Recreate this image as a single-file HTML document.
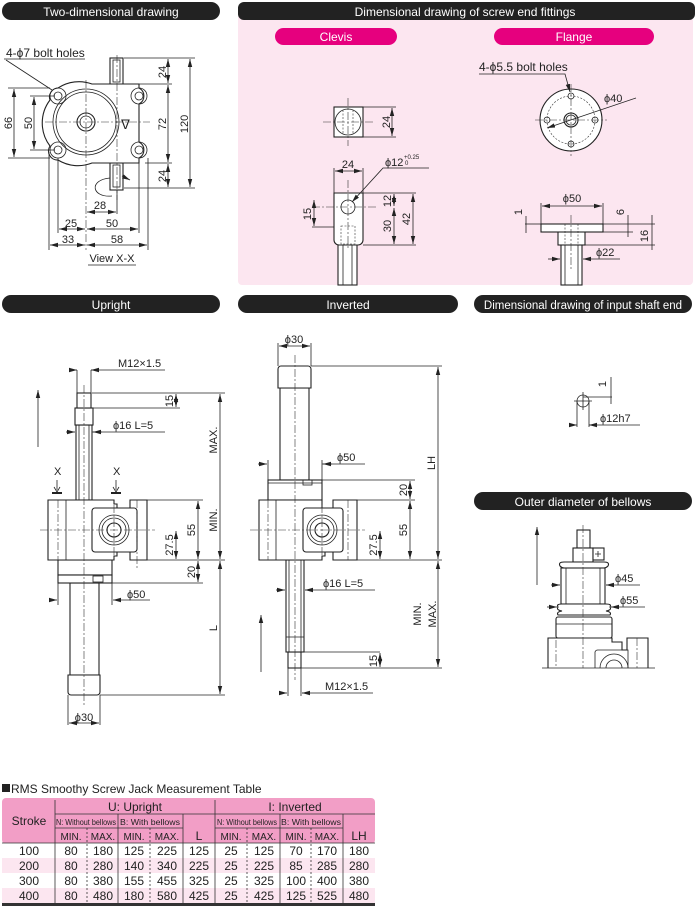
<!DOCTYPE html>
<html><head><meta charset="utf-8"><style>
html,body{margin:0;padding:0;background:#fff}
svg{display:block}
text{font-family:"Liberation Sans",sans-serif;fill:#222}
.h{fill:#fff;font-size:12px}
.d{font-size:11px}
.ln{stroke:#222;stroke-width:0.8;fill:none}
.th{stroke:#222;stroke-width:1.1;fill:#fff}
.c{stroke:#333;stroke-width:0.6;stroke-dasharray:8 2 2 2;fill:none}
.hd{stroke:#333;stroke-width:0.6;stroke-dasharray:2 1.5;fill:none}
</style></head><body>
<svg width="695" height="908" viewBox="0 0 695 908" xmlns="http://www.w3.org/2000/svg">
<defs>
<marker id="a" viewBox="0 0 8 6" refX="8" refY="3" markerWidth="8" markerHeight="6" orient="auto-start-reverse" markerUnits="userSpaceOnUse"><path d="M0,0.8 L8,3 L0,5.2z" fill="#222"/></marker>
</defs>
<!-- pink panel -->
<rect x="238" y="14" width="455" height="271" rx="4" fill="#fce6f0"/>
<!-- headers -->
<rect x="2" y="2" width="218" height="18" rx="9" fill="#222"/><text x="111" y="16" text-anchor="middle" class="h">Two-dimensional drawing</text>
<rect x="238" y="2" width="457" height="18" rx="6" fill="#222"/><text x="465" y="16" text-anchor="middle" class="h">Dimensional drawing of screw end fittings</text>
<rect x="275" y="28" width="122" height="17" rx="8.5" fill="#e6007e"/><text x="336" y="41" text-anchor="middle" class="h">Clevis</text>
<rect x="494" y="28" width="160" height="17" rx="8.5" fill="#e6007e"/><text x="574" y="41" text-anchor="middle" class="h">Flange</text>
<rect x="2" y="295" width="218" height="18" rx="9" fill="#222"/><text x="111" y="309" text-anchor="middle" class="h">Upright</text>
<rect x="238" y="295" width="220" height="18" rx="9" fill="#222"/><text x="348" y="309" text-anchor="middle" class="h">Inverted</text>
<rect x="474" y="295" width="218" height="18" rx="9" fill="#222"/><text x="583" y="309" text-anchor="middle" class="h" style="font-size:11.5px">Dimensional drawing of input shaft end</text>
<rect x="474" y="492" width="218" height="18" rx="9" fill="#222"/><text x="583" y="506" text-anchor="middle" class="h">Outer diameter of bellows</text>

<!-- Two-dimensional drawing -->
<g>
<rect x="110" y="58" width="13" height="27" class="th"/>
<rect x="110" y="163" width="13" height="27" class="th"/>
<rect x="113" y="165" width="7" height="22" class="ln"/>
<rect x="113" y="60" width="7" height="22" class="ln"/>
<path d="M92,84 H139 V88 A9,9 0 0 1 139,104 V142 A9,9 0 0 1 139,158 V163 H92 A38,38 0 0 1 58,160 A9,9 0 0 1 50,146 A38,38 0 0 1 50,100 A9,9 0 0 1 58,88 A38,38 0 0 1 92,84z" class="th"/>
<circle cx="86" cy="122" r="33" class="ln"/><circle cx="86" cy="122" r="30" class="ln"/>
<circle cx="86" cy="122" r="9" class="th"/><circle cx="86" cy="122" r="6" class="ln"/>
<g class="ln"><circle cx="58" cy="96" r="8"/><circle cx="58" cy="96" r="4"/><circle cx="58" cy="150" r="8"/><circle cx="58" cy="150" r="4"/><circle cx="139" cy="96" r="8"/><circle cx="139" cy="96" r="4"/><circle cx="139" cy="150" r="8"/><circle cx="139" cy="150" r="4"/></g>
<text x="121" y="129" class="d" style="font-size:13px">ᐁ</text>
<line x1="86" y1="80" x2="86" y2="250" class="c"/><line x1="45" y1="122" x2="150" y2="122" class="c"/><line x1="117" y1="55" x2="117" y2="200" class="c"/>
<path d="M110,178 C88,180 92,198 112,196" class="ln"/><path d="M122,176 L130,180" class="ln" marker-end="url(#a)"/>
<text x="6" y="57" class="d" style="font-size:12px">4-ϕ7 bolt holes</text>
<line x1="4" y1="59" x2="85" y2="59" class="ln"/><line x1="6" y1="60" x2="52" y2="90" class="ln"/>
<g class="ln"><line x1="8" y1="88" x2="50" y2="88"/><line x1="8" y1="158" x2="50" y2="158"/><line x1="30" y1="96" x2="55" y2="96"/><line x1="30" y1="150" x2="55" y2="150"/>
<line x1="124" y1="58" x2="195" y2="58"/><line x1="124" y1="84" x2="172" y2="84"/><line x1="145" y1="163" x2="172" y2="163"/><line x1="124" y1="188" x2="195" y2="188"/>
<line x1="49" y1="152" x2="49" y2="250"/><line x1="58" y1="158" x2="58" y2="233"/><line x1="148" y1="158" x2="148" y2="250"/><line x1="139" y1="158" x2="139" y2="233"/><line x1="117" y1="190" x2="117" y2="214"/></g>
<line x1="14" y1="89" x2="14" y2="157" class="ln" marker-start="url(#a)" marker-end="url(#a)"/>
<line x1="34" y1="97" x2="34" y2="149" class="ln" marker-start="url(#a)" marker-end="url(#a)"/>
<line x1="168" y1="59" x2="168" y2="83" class="ln" marker-start="url(#a)" marker-end="url(#a)"/>
<line x1="168" y1="85" x2="168" y2="162" class="ln" marker-start="url(#a)" marker-end="url(#a)"/>
<line x1="168" y1="164" x2="168" y2="187" class="ln" marker-start="url(#a)" marker-end="url(#a)"/>
<line x1="190" y1="59" x2="190" y2="187" class="ln" marker-start="url(#a)" marker-end="url(#a)"/>
<line x1="87" y1="212" x2="116" y2="212" class="ln" marker-start="url(#a)" marker-end="url(#a)"/>
<line x1="59" y1="229" x2="85" y2="229" class="ln" marker-start="url(#a)" marker-end="url(#a)"/>
<line x1="87" y1="229" x2="138" y2="229" class="ln" marker-start="url(#a)" marker-end="url(#a)"/>
<line x1="50" y1="245" x2="85" y2="245" class="ln" marker-start="url(#a)" marker-end="url(#a)"/>
<line x1="87" y1="245" x2="147" y2="245" class="ln" marker-start="url(#a)" marker-end="url(#a)"/>
<g class="d"><text transform="translate(12,123) rotate(-90)" text-anchor="middle">66</text><text transform="translate(32,123) rotate(-90)" text-anchor="middle">50</text>
<text transform="translate(166,72) rotate(-90)" text-anchor="middle">24</text><text transform="translate(166,124) rotate(-90)" text-anchor="middle">72</text><text transform="translate(166,176) rotate(-90)" text-anchor="middle">24</text><text transform="translate(188,124) rotate(-90)" text-anchor="middle">120</text>
<text x="100" y="209" text-anchor="middle">28</text><text x="71" y="227" text-anchor="middle">25</text><text x="112" y="227" text-anchor="middle">50</text><text x="68" y="243" text-anchor="middle">33</text><text x="117" y="243" text-anchor="middle">58</text>
<text x="112" y="262" text-anchor="middle">View X-X</text></g>
<line x1="88" y1="265" x2="136" y2="265" class="ln"/>
</g>

<!-- Clevis -->
<g>
<rect x="334" y="107" width="29" height="30" class="th"/><circle cx="348" cy="122" r="13" class="ln"/>
<line x1="343" y1="110" x2="343" y2="134" class="hd"/><line x1="353" y1="110" x2="353" y2="134" class="hd"/>
<line x1="348" y1="98" x2="348" y2="146" class="c"/><line x1="323" y1="122" x2="373" y2="122" class="c"/>
<line x1="363" y1="107" x2="396" y2="107" class="ln"/><line x1="363" y1="137" x2="396" y2="137" class="ln"/>
<line x1="392" y1="108" x2="392" y2="136" class="ln" marker-start="url(#a)" marker-end="url(#a)"/><text transform="translate(390,122) rotate(-90)" text-anchor="middle" class="d">24</text>
<rect x="338" y="244" width="19" height="41" class="th"/><line x1="343" y1="244" x2="343" y2="285" class="ln"/><line x1="352" y1="244" x2="352" y2="285" class="ln"/>
<path d="M334,193 H363 V240 A5,5 0 0 1 358,245 H339 A5,5 0 0 1 334,240z" class="th"/>
<circle cx="348" cy="207" r="7" class="ln"/>
<rect x="341" y="226" width="14" height="18" class="hd"/>
<line x1="348" y1="180" x2="348" y2="250" class="c"/><line x1="312" y1="207" x2="376" y2="207" class="c"/>
<line x1="334" y1="168" x2="334" y2="193" class="ln"/><line x1="363" y1="168" x2="363" y2="193" class="ln"/>
<line x1="335" y1="171" x2="362" y2="171" class="ln" marker-start="url(#a)" marker-end="url(#a)"/><text x="348" y="168" text-anchor="middle" class="d">24</text>
<path d="M429,168 H383 L352,202" class="ln" marker-end="url(#a)"/>
<text x="385" y="166" class="d">ϕ12</text><text x="404" y="159" style="font-size:6px">+0.25</text><text x="405" y="165" style="font-size:6px">0</text>
<line x1="312" y1="227" x2="334" y2="227" class="ln"/><line x1="314" y1="200" x2="314" y2="226" class="ln" marker-start="url(#a)" marker-end="url(#a)"/><text transform="translate(311,214) rotate(-90)" text-anchor="middle" class="d">15</text>
<line x1="363" y1="193" x2="416" y2="193" class="ln"/><line x1="363" y1="245" x2="416" y2="245" class="ln"/>
<line x1="394" y1="194" x2="394" y2="206" class="ln" marker-start="url(#a)" marker-end="url(#a)"/><line x1="394" y1="208" x2="394" y2="244" class="ln" marker-start="url(#a)" marker-end="url(#a)"/><line x1="413" y1="194" x2="413" y2="244" class="ln" marker-start="url(#a)" marker-end="url(#a)"/>
<text transform="translate(391,201) rotate(-90)" text-anchor="middle" class="d">12</text><text transform="translate(391,226) rotate(-90)" text-anchor="middle" class="d">30</text><text transform="translate(410,219) rotate(-90)" text-anchor="middle" class="d">42</text>
</g>

<!-- Flange -->
<g>
<circle cx="571" cy="120" r="31" class="th"/><circle cx="571" cy="120" r="24" class="hd"/>
<circle cx="571" cy="120" r="7" class="th"/><circle cx="571" cy="120" r="5" class="ln"/>
<g class="ln"><circle cx="571" cy="96" r="3"/><circle cx="571" cy="144" r="3"/><circle cx="547" cy="120" r="3"/><circle cx="595" cy="120" r="3"/></g>
<line x1="571" y1="84" x2="571" y2="156" class="c"/><line x1="535" y1="120" x2="607" y2="120" class="c"/>
<text x="479" y="71" class="d" style="font-size:12px">4-ϕ5.5 bolt holes</text><path d="M479,74 H565 L570,92" class="ln" marker-end="url(#a)"/>
<line x1="636" y1="98" x2="547" y2="128" class="ln" marker-end="url(#a)"/><text x="604" y="102" class="d">ϕ40</text>
<rect x="561" y="244" width="21" height="41" class="th"/><line x1="565" y1="244" x2="565" y2="285" class="ln"/><line x1="578" y1="244" x2="578" y2="285" class="ln"/>
<rect x="558" y="231" width="27" height="14" class="th"/>
<rect x="541" y="224" width="62" height="8" class="th"/>
<line x1="565" y1="224" x2="565" y2="244" class="hd"/><line x1="578" y1="224" x2="578" y2="244" class="hd"/>
<line x1="571" y1="215" x2="571" y2="270" class="c"/>
<line x1="541" y1="203" x2="541" y2="224" class="ln"/><line x1="603" y1="203" x2="603" y2="224" class="ln"/>
<line x1="542" y1="206" x2="602" y2="206" class="ln" marker-start="url(#a)" marker-end="url(#a)"/><text x="572" y="202" text-anchor="middle" class="d">ϕ50</text>
<line x1="525" y1="224" x2="541" y2="224" class="ln"/><line x1="603" y1="224" x2="655" y2="224" class="ln"/><line x1="585" y1="232" x2="633" y2="232" class="ln"/><line x1="585" y1="245" x2="655" y2="245" class="ln"/>
<line x1="526" y1="216" x2="526" y2="233" class="ln"/><text transform="translate(522,212) rotate(-90)" text-anchor="middle" class="d">1</text>
<line x1="628" y1="215" x2="628" y2="237" class="ln"/><text transform="translate(624,212) rotate(-90)" text-anchor="middle" class="d">6</text>
<line x1="652" y1="215" x2="652" y2="250" class="ln"/><text transform="translate(648,236) rotate(-90)" text-anchor="middle" class="d">16</text>
<line x1="548" y1="259" x2="560" y2="259" class="ln" marker-end="url(#a)"/><line x1="620" y1="259" x2="583" y2="259" class="ln" marker-end="url(#a)"/><text x="596" y="256" class="d">ϕ22</text>
</g>

<!-- Upright -->
<g>
<line x1="38" y1="390" x2="38" y2="447" class="ln" marker-start="url(#a)"/>
<rect x="70" y="583" width="29" height="92" class="th"/>
<path d="M68,675 H100 V692 A3,3 0 0 1 97,695 H71 A3,3 0 0 1 68,692z" class="th"/>
<rect x="58" y="560" width="54" height="15" class="th"/>
<rect x="58" y="575" width="54" height="8" class="th"/><rect x="93" y="576" width="10" height="6" class="ln"/>
<rect x="76" y="425" width="16" height="75" class="th"/><line x1="79" y1="425" x2="79" y2="500" class="ln"/><line x1="89" y1="425" x2="89" y2="500" class="ln"/>
<rect x="75" y="408" width="18" height="17" class="th"/>
<rect x="77" y="393" width="14" height="15" class="th"/>
<path d="M48,500 H114 V504 H117 V508 H130 V500 H147 V560 H130 V552 H117 V556 H114 V560 H48z" class="th"/>
<line x1="66" y1="500" x2="66" y2="560" class="ln"/>
<rect x="92" y="508" width="45" height="44" rx="3" class="th"/>
<circle cx="114" cy="530" r="15" class="ln"/><circle cx="114" cy="530" r="12" class="ln"/><circle cx="114" cy="530" r="7" class="th"/>
<line x1="84" y1="385" x2="84" y2="705" class="c"/><line x1="40" y1="530" x2="155" y2="530" class="c"/><line x1="114" y1="505" x2="114" y2="558" class="c"/><line x1="58" y1="500" x2="58" y2="560" class="c"/><line x1="137" y1="500" x2="137" y2="570" class="c"/>
<text x="54" y="475" class="d">X</text><text x="113" y="475" class="d">X</text>
<path d="M57,480 V490 M54,487 L57,492 L60,487" class="ln"/><rect x="52" y="492" width="10" height="2" fill="#222"/>
<path d="M116,480 V490 M113,487 L116,492 L119,487" class="ln"/><rect x="111" y="492" width="10" height="2" fill="#222"/>
<g class="ln"><line x1="91" y1="370" x2="165" y2="370"/><line x1="77" y1="370" x2="77" y2="393"/><line x1="91" y1="370" x2="91" y2="393"/>
<line x1="92" y1="393" x2="225" y2="393"/><line x1="93" y1="408" x2="180" y2="408"/><line x1="92" y1="432" x2="165" y2="432"/>
<line x1="147" y1="500" x2="203" y2="500"/><line x1="147" y1="560" x2="225" y2="560"/><line x1="112" y1="583" x2="203" y2="583"/><line x1="100" y1="695" x2="225" y2="695"/>
<line x1="58" y1="583" x2="58" y2="605"/><line x1="112" y1="583" x2="112" y2="605"/><line x1="68" y1="695" x2="68" y2="725"/><line x1="100" y1="695" x2="100" y2="725"/></g>
<line x1="70" y1="370" x2="77" y2="370" class="ln" marker-end="url(#a)"/><line x1="98" y1="370" x2="91" y2="370" class="ln" marker-end="url(#a)"/><text x="118" y="367" class="d">M12×1.5</text>
<line x1="66" y1="432" x2="75" y2="432" class="ln" marker-end="url(#a)"/><line x1="102" y1="432" x2="93" y2="432" class="ln" marker-end="url(#a)"/><text x="113" y="429" class="d">ϕ16 L=5</text>
<line x1="176" y1="394" x2="176" y2="407" class="ln" marker-start="url(#a)" marker-end="url(#a)"/><text transform="translate(173,401) rotate(-90)" text-anchor="middle" class="d">15</text>
<line x1="198" y1="501" x2="198" y2="559" class="ln" marker-start="url(#a)" marker-end="url(#a)"/><text transform="translate(195,530) rotate(-90)" text-anchor="middle" class="d">55</text>
<line x1="176" y1="531" x2="176" y2="559" class="ln" marker-start="url(#a)" marker-end="url(#a)"/><text transform="translate(173,545) rotate(-90)" text-anchor="middle" class="d">27.5</text>
<line x1="198" y1="561" x2="198" y2="582" class="ln" marker-start="url(#a)" marker-end="url(#a)"/><text transform="translate(195,572) rotate(-90)" text-anchor="middle" class="d">20</text>
<line x1="220" y1="394" x2="220" y2="559" class="ln" marker-start="url(#a)" marker-end="url(#a)"/><text transform="translate(217,440) rotate(-90)" text-anchor="middle" class="d">MAX.</text><text transform="translate(217,520) rotate(-90)" text-anchor="middle" class="d">MIN.</text>
<line x1="220" y1="561" x2="220" y2="694" class="ln" marker-start="url(#a)" marker-end="url(#a)"/><text transform="translate(217,628) rotate(-90)" text-anchor="middle" class="d">L</text>
<line x1="50" y1="600" x2="57" y2="600" class="ln" marker-end="url(#a)"/><line x1="150" y1="600" x2="113" y2="600" class="ln" marker-end="url(#a)"/><text x="127" y="598" class="d">ϕ50</text>
<line x1="69" y1="723" x2="99" y2="723" class="ln" marker-start="url(#a)" marker-end="url(#a)"/><text x="84" y="721" text-anchor="middle" class="d">ϕ30</text>
</g>

<!-- Inverted -->
<g>
<line x1="261" y1="615" x2="261" y2="672" class="ln" marker-start="url(#a)"/>
<rect x="280" y="388" width="29" height="92" class="th"/>
<path d="M278,369 A3,3 0 0 1 281,366 H308 A3,3 0 0 1 311,369 V388 H278z" class="th"/>
<rect x="268" y="480" width="54" height="20" class="th"/><line x1="268" y1="483" x2="322" y2="483" class="ln"/><rect x="303" y="480" width="9" height="5" class="ln"/>
<rect x="288" y="652" width="13" height="16" class="th"/>
<rect x="286" y="560" width="18" height="92" class="th"/><line x1="289" y1="560" x2="289" y2="652" class="ln"/><line x1="301" y1="560" x2="301" y2="652" class="ln"/><line x1="286" y1="637" x2="304" y2="637" class="ln"/>
<path d="M259,500 H322 V508 H333 V500 H357 V560 H333 V552 H325 V556 H322 V560 H259z" class="th"/>
<line x1="276" y1="500" x2="276" y2="560" class="ln"/>
<rect x="303" y="508" width="40" height="44" rx="3" class="th"/>
<circle cx="322" cy="530" r="15" class="ln"/><circle cx="322" cy="530" r="12" class="ln"/><circle cx="322" cy="530" r="7" class="th"/>
<line x1="295" y1="355" x2="295" y2="680" class="c"/><line x1="250" y1="530" x2="365" y2="530" class="c"/><line x1="268" y1="500" x2="268" y2="560" class="c"/><line x1="348" y1="500" x2="348" y2="560" class="c"/><line x1="322" y1="505" x2="322" y2="555" class="c"/>
<g class="ln"><line x1="278" y1="343" x2="278" y2="366"/><line x1="311" y1="343" x2="311" y2="366"/><line x1="311" y1="366" x2="442" y2="366"/>
<line x1="268" y1="460" x2="268" y2="480"/><line x1="322" y1="460" x2="322" y2="480"/><line x1="322" y1="480" x2="415" y2="480"/><line x1="357" y1="500" x2="415" y2="500"/><line x1="357" y1="560" x2="442" y2="560"/>
<line x1="304" y1="652" x2="380" y2="652"/><line x1="301" y1="668" x2="442" y2="668"/><line x1="288" y1="668" x2="288" y2="696"/><line x1="301" y1="668" x2="301" y2="696"/></g>
<line x1="279" y1="346" x2="310" y2="346" class="ln" marker-start="url(#a)" marker-end="url(#a)"/><text x="294" y="343" text-anchor="middle" class="d">ϕ30</text>
<line x1="258" y1="464" x2="267" y2="464" class="ln" marker-end="url(#a)"/><line x1="332" y1="464" x2="323" y2="464" class="ln" marker-end="url(#a)"/><line x1="322" y1="464" x2="365" y2="464" class="ln"/><text x="337" y="461" class="d">ϕ50</text>
<line x1="276" y1="590" x2="285" y2="590" class="ln" marker-end="url(#a)"/><line x1="312" y1="590" x2="305" y2="590" class="ln" marker-end="url(#a)"/><line x1="305" y1="590" x2="375" y2="590" class="ln"/><text x="323" y="587" class="d">ϕ16 L=5</text>
<line x1="410" y1="481" x2="410" y2="499" class="ln" marker-start="url(#a)" marker-end="url(#a)"/><text transform="translate(407,490) rotate(-90)" text-anchor="middle" class="d">20</text>
<line x1="410" y1="501" x2="410" y2="559" class="ln" marker-start="url(#a)" marker-end="url(#a)"/><text transform="translate(407,530) rotate(-90)" text-anchor="middle" class="d">55</text>
<line x1="380" y1="531" x2="380" y2="559" class="ln" marker-start="url(#a)" marker-end="url(#a)"/><text transform="translate(377,545) rotate(-90)" text-anchor="middle" class="d">27.5</text>
<line x1="380" y1="653" x2="380" y2="667" class="ln" marker-start="url(#a)" marker-end="url(#a)"/><text transform="translate(377,661) rotate(-90)" text-anchor="middle" class="d">15</text>
<line x1="438" y1="367" x2="438" y2="559" class="ln" marker-start="url(#a)" marker-end="url(#a)"/><text transform="translate(435,463) rotate(-90)" text-anchor="middle" class="d">LH</text>
<line x1="438" y1="561" x2="438" y2="667" class="ln" marker-start="url(#a)" marker-end="url(#a)"/><text transform="translate(421,614) rotate(-90)" text-anchor="middle" class="d">MIN.</text><text transform="translate(436,614) rotate(-90)" text-anchor="middle" class="d">MAX.</text>
<line x1="280" y1="693" x2="287" y2="693" class="ln" marker-end="url(#a)"/><line x1="308" y1="693" x2="302" y2="693" class="ln" marker-end="url(#a)"/><line x1="302" y1="693" x2="373" y2="693" class="ln"/><text x="325" y="690" class="d">M12×1.5</text>
</g>

<!-- Input shaft -->
<g>
<circle cx="583" cy="401" r="6" class="ln"/>
<line x1="583" y1="392" x2="583" y2="410" class="ln" stroke-width="0.6"/><line x1="574" y1="401" x2="592" y2="401" class="ln" stroke-width="0.6"/>
<line x1="583" y1="397" x2="612" y2="397" class="ln"/><line x1="611" y1="377" x2="611" y2="404" class="ln"/><text transform="translate(606,384) rotate(-90)" text-anchor="middle" class="d">1</text>
<line x1="577" y1="401" x2="577" y2="427" class="ln"/><line x1="589" y1="401" x2="589" y2="427" class="ln"/>
<line x1="570" y1="425" x2="577" y2="425" class="ln" marker-end="url(#a)"/><line x1="597" y1="425" x2="589" y2="425" class="ln" marker-end="url(#a)"/><line x1="589" y1="425" x2="640" y2="425" class="ln"/><text x="600" y="422" class="d">ϕ12h7</text>
</g>

<!-- Bellows -->
<g>
<line x1="537" y1="527" x2="537" y2="585" class="ln" marker-start="url(#a)"/>
<rect x="577" y="530" width="13" height="18" class="th"/>
<rect x="573" y="548" width="20" height="14" class="th"/><rect x="593" y="548" width="11" height="12" class="th"/><path d="M598,551 V557 M595,554 H601" class="ln"/>
<path d="M560,566 Q558,562 564,562 H604 Q610,562 608,566 Q606,568 604,568 H564 Q562,568 560,566z" class="th"/>
<rect x="561" y="568" width="44" height="36" class="th"/><line x1="566" y1="568" x2="566" y2="604" class="ln"/><line x1="600" y1="568" x2="600" y2="604" class="ln"/>
<path d="M558,607 Q556,604 562,604 H606 Q612,604 610,607 Q612,610 606,611 Q612,612 610,615 H558 Q556,612 562,611 Q556,610 558,607z" class="th"/>
<rect x="556" y="617" width="56" height="21" rx="2" class="th"/><line x1="556" y1="624" x2="612" y2="624" class="ln"/>
<path d="M548,668 V638 H612 V642 H622 V650 H627 V638 H648 V668" class="th"/>
<path d="M595,668 V652 A3,3 0 0 1 598,650 H628 V668" class="ln"/>
<path d="M600,668 A14,14 0 0 1 628,668" class="ln"/><path d="M606,668 A8,8 0 0 1 622,668" class="ln"/>
<line x1="542" y1="668" x2="655" y2="668" class="ln"/>
<line x1="583" y1="525" x2="583" y2="668" class="c"/><line x1="556" y1="640" x2="556" y2="668" class="c"/><line x1="637" y1="638" x2="637" y2="668" class="c"/>
<line x1="551" y1="585" x2="560" y2="585" class="ln" marker-end="url(#a)"/><line x1="614" y1="585" x2="606" y2="585" class="ln" marker-end="url(#a)"/><line x1="606" y1="585" x2="640" y2="585" class="ln"/><text x="615" y="582" class="d">ϕ45</text>
<line x1="547" y1="607" x2="557" y2="607" class="ln" marker-end="url(#a)"/><line x1="618" y1="607" x2="611" y2="607" class="ln" marker-end="url(#a)"/><line x1="611" y1="607" x2="645" y2="607" class="ln"/><text x="620" y="604" class="d">ϕ55</text>
</g>

<!-- Table -->
<rect x="2" y="784" width="8" height="8" fill="#222"/>
<text x="11" y="793" style="font-size:12px">RMS Smoothy Screw Jack Measurement Table</text>
<rect x="2" y="798" width="373" height="46" rx="4" fill="#f29ec6"/>
<rect x="2" y="843" width="373" height="15" fill="#fff"/>
<rect x="2" y="858" width="373" height="15" fill="#fce6f0"/>
<rect x="2" y="873" width="373" height="15" fill="#fff"/>
<rect x="2" y="888" width="373" height="15" fill="#fce6f0"/>
<rect x="2" y="903" width="373" height="3" fill="#333"/>
<g stroke="#333" stroke-width="0.8">
<line x1="55" y1="800" x2="55" y2="903"/><line x1="215" y1="800" x2="215" y2="903"/>
<line x1="55" y1="814" x2="375" y2="814"/><line x1="55" y1="828" x2="183" y2="828"/><line x1="215" y1="828" x2="343" y2="828"/>
<line x1="2" y1="843" x2="375" y2="843"/>
<line x1="118" y1="814" x2="118" y2="903"/><line x1="183" y1="814" x2="183" y2="903"/><line x1="280" y1="814" x2="280" y2="903"/><line x1="343" y1="814" x2="343" y2="903"/>
</g>
<g stroke="#333" stroke-width="0.8" stroke-dasharray="2 2">
<line x1="87" y1="828" x2="87" y2="903"/><line x1="150" y1="828" x2="150" y2="903"/><line x1="247" y1="828" x2="247" y2="903"/><line x1="311" y1="828" x2="311" y2="903"/>
</g>
<g style="font-size:12px" text-anchor="middle">
<text x="29" y="825">Stroke</text><text x="135" y="811">U: Upright</text><text x="295" y="811">I: Inverted</text>
<text x="199" y="840">L</text><text x="359" y="840">LH</text>
</g>
<g style="font-size:8.5px" text-anchor="middle">
<text x="86" y="825" textLength="60" lengthAdjust="spacingAndGlyphs">N: Without bellows</text><text x="150" y="825" textLength="60" lengthAdjust="spacingAndGlyphs">B: With bellows</text>
<text x="247" y="825" textLength="60" lengthAdjust="spacingAndGlyphs">N: Without bellows</text><text x="311" y="825" textLength="60" lengthAdjust="spacingAndGlyphs">B: With bellows</text>
</g>
<g style="font-size:10px" text-anchor="middle">
<text x="71" y="840">MIN.</text><text x="103" y="840">MAX.</text><text x="134" y="840">MIN.</text><text x="167" y="840">MAX.</text>
<text x="231" y="840">MIN.</text><text x="264" y="840">MAX.</text><text x="296" y="840">MIN.</text><text x="327" y="840">MAX.</text>
</g>
<g style="font-size:12px;fill:#444" text-anchor="middle">
<text x="29" y="855">100</text><text x="71" y="855">80</text><text x="103" y="855">180</text><text x="134" y="855">125</text><text x="167" y="855">225</text><text x="199" y="855">125</text><text x="231" y="855">25</text><text x="264" y="855">125</text><text x="296" y="855">70</text><text x="327" y="855">170</text><text x="359" y="855">180</text>
<text x="29" y="870">200</text><text x="71" y="870">80</text><text x="103" y="870">280</text><text x="134" y="870">140</text><text x="167" y="870">340</text><text x="199" y="870">225</text><text x="231" y="870">25</text><text x="264" y="870">225</text><text x="296" y="870">85</text><text x="327" y="870">285</text><text x="359" y="870">280</text>
<text x="29" y="885">300</text><text x="71" y="885">80</text><text x="103" y="885">380</text><text x="134" y="885">155</text><text x="167" y="885">455</text><text x="199" y="885">325</text><text x="231" y="885">25</text><text x="264" y="885">325</text><text x="296" y="885">100</text><text x="327" y="885">400</text><text x="359" y="885">380</text>
<text x="29" y="900">400</text><text x="71" y="900">80</text><text x="103" y="900">480</text><text x="134" y="900">180</text><text x="167" y="900">580</text><text x="199" y="900">425</text><text x="231" y="900">25</text><text x="264" y="900">425</text><text x="296" y="900">125</text><text x="327" y="900">525</text><text x="359" y="900">480</text>
</g>
</svg>
</body></html>
